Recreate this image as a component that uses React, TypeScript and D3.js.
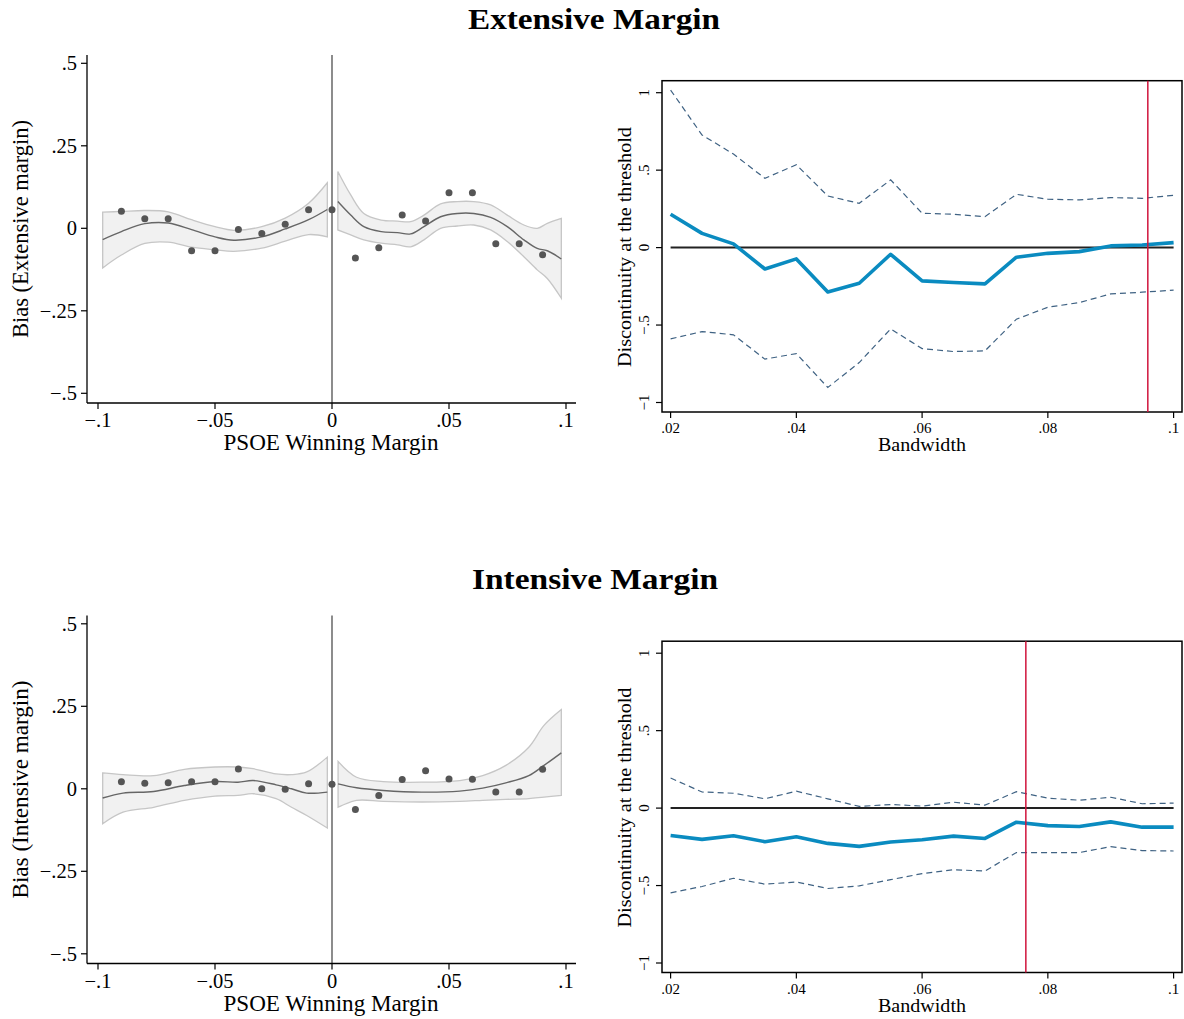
import React from 'react';
import * as d3 from 'd3';

const FONT = '"Liberation Serif", "Times New Roman", serif';

// ---------- Left panels (binned scatter + local fit) ----------
const binX = [-0.09, -0.08, -0.07, -0.06, -0.05, -0.04, -0.03, -0.02, -0.01, 0, 0.01, 0.02, 0.03, 0.04, 0.05, 0.06, 0.07, 0.08, 0.09];
const extBinY = [0.052, 0.029, 0.029, -0.068, -0.068, -0.004, -0.016, 0.012, 0.056, 0.056, -0.090, -0.059, 0.040, 0.022, 0.108, 0.108, -0.047, -0.047, -0.080];
const intBinY = [0.021, 0.017, 0.018, 0.021, 0.021, 0.060, 0.0, -0.001, 0.015, 0.014, -0.063, -0.020, 0.028, 0.055, 0.030, 0.029, -0.010, -0.010, 0.059];

const extFitLX = [-0.098, -0.09, -0.08, -0.07, -0.06, -0.05, -0.042, -0.03, -0.02, -0.01, -0.002];
const extFitL = [-0.034, -0.010, 0.014, 0.016, -0.004, -0.026, -0.036, -0.026, -0.002, 0.026, 0.057];
const extUpL = [0.049, 0.051, 0.054, 0.050, 0.026, 0.005, -0.006, 0.005, 0.031, 0.076, 0.138];
const extLoL = [-0.120, -0.081, -0.046, -0.042, -0.057, -0.065, -0.070, -0.060, -0.039, -0.019, -0.026];

const extFitRX = [0.0025, 0.008, 0.0136, 0.021, 0.028, 0.0336, 0.0393, 0.0464, 0.0535, 0.0606, 0.0678, 0.0749, 0.082, 0.0877, 0.092, 0.098];
const extFitR = [0.081, 0.040, 0.005, -0.010, -0.013, -0.017, 0.005, 0.035, 0.045, 0.045, 0.033, 0.005, -0.035, -0.061, -0.068, -0.093];
const extUpR = [0.172, 0.101, 0.045, 0.025, 0.022, 0.020, 0.040, 0.074, 0.081, 0.081, 0.071, 0.040, 0.010, 0.000, 0.015, 0.030];
const extLoR = [-0.005, -0.020, -0.035, -0.045, -0.050, -0.056, -0.035, 0.000, 0.007, 0.010, -0.005, -0.040, -0.086, -0.126, -0.152, -0.212];

const intFitLX = [-0.098, -0.0893, -0.0762, -0.0631, -0.050, -0.0402, -0.0337, -0.0239, -0.0173, -0.0108, -0.002];
const intFitL = [-0.028, -0.013, -0.008, 0.010, 0.022, 0.020, 0.025, 0.012, 0.000, -0.013, -0.010];
const intUpL = [0.048, 0.043, 0.040, 0.059, 0.066, 0.066, 0.061, 0.045, 0.043, 0.051, 0.096];
const intLoL = [-0.106, -0.071, -0.056, -0.035, -0.022, -0.020, -0.015, -0.030, -0.056, -0.081, -0.119];

const intFitRX = [0.0026, 0.0105, 0.0219, 0.0383, 0.0546, 0.0644, 0.0743, 0.0841, 0.0906, 0.098];
const intFitR = [0.015, 0.003, -0.005, -0.010, -0.007, 0.002, 0.018, 0.040, 0.071, 0.109];
const intUpR = [0.083, 0.035, 0.022, 0.020, 0.025, 0.040, 0.071, 0.126, 0.192, 0.240];
const intLoR = [-0.056, -0.035, -0.038, -0.040, -0.038, -0.035, -0.032, -0.030, -0.025, -0.020];

const leftXTicks = [-0.1, -0.05, 0, 0.05, 0.1];
const leftXLabels = ['\u2212.1', '\u2212.05', '0', '.05', '.1'];
const leftYTicks = [0.5, 0.25, 0, -0.25, -0.5];
const leftYLabels = ['.5', '.25', '0', '\u2212.25', '\u2212.5'];

// ---------- Right panels (estimate by bandwidth) ----------
const bandwidths = [0.02, 0.025, 0.03, 0.035, 0.04, 0.045, 0.05, 0.055, 0.06, 0.065, 0.07, 0.075, 0.08, 0.085, 0.09, 0.095, 0.1];
const extEst = [0.215, 0.092, 0.024, -0.138, -0.073, -0.286, -0.230, -0.043, -0.215, -0.225, -0.234, -0.062, -0.037, -0.026, 0.011, 0.017, 0.032];
const extHi = [1.017, 0.727, 0.604, 0.447, 0.535, 0.333, 0.286, 0.437, 0.222, 0.215, 0.200, 0.344, 0.312, 0.308, 0.323, 0.318, 0.338];
const extLo = [-0.589, -0.542, -0.563, -0.720, -0.684, -0.903, -0.742, -0.525, -0.652, -0.671, -0.667, -0.462, -0.385, -0.355, -0.299, -0.288, -0.275];
const extOptimal = 0.0959;

const intEst = [-0.177, -0.202, -0.179, -0.217, -0.185, -0.228, -0.247, -0.219, -0.204, -0.181, -0.196, -0.091, -0.113, -0.119, -0.089, -0.123, -0.123];
const intHi = [0.194, 0.104, 0.096, 0.060, 0.109, 0.060, 0.011, 0.023, 0.013, 0.038, 0.019, 0.106, 0.064, 0.051, 0.070, 0.028, 0.032];
const intLo = [-0.547, -0.506, -0.453, -0.491, -0.477, -0.519, -0.502, -0.462, -0.423, -0.398, -0.406, -0.287, -0.287, -0.287, -0.249, -0.274, -0.277];
const intOptimal = 0.0765;

const rightXTicks = [0.02, 0.04, 0.06, 0.08, 0.1];
const rightXLabels = ['.02', '.04', '.06', '.08', '.1'];
const rightYTicks = [1, 0.5, 0, -0.5, -1];
const rightYLabels = ['1', '.5', '0', '\u2212.5', '\u22121'];

type Fit = { x: number[]; fit: number[]; up: number[]; lo: number[] };

function LeftPanel({ dy, yLabel, binY, fits }: { dy: number; yLabel: string; binY: number[]; fits: Fit[] }) {
  const x = d3.scaleLinear().domain([-0.1, 0.1]).range([98, 566]);
  const y = d3.scaleLinear().domain([-0.5, 0.5]).range([393.3 + dy, 63.3 + dy]);
  const axTop = 55 + dy;
  const axBot = 403 + dy;
  const axLeft = 87;
  const axRight = 576;
  const area = d3.area<number>().curve(d3.curveCatmullRom.alpha(0.5));
  const line = d3.line<[number, number]>().curve(d3.curveCatmullRom.alpha(0.5));
  return (
    <g>
      {fits.map((f, k) => {
        const a = area
          .x((_, i) => x(f.x[i]))
          .y0((_, i) => y(f.lo[i]))
          .y1((_, i) => y(f.up[i]))(f.x);
        const l = line(f.x.map((v, i) => [x(v), y(f.fit[i])] as [number, number]));
        return (
          <g key={k}>
            <path d={a || ''} fill="#f1f1f1" stroke="#c6c6c6" strokeWidth={1.3} />
            <path d={l || ''} fill="none" stroke="#666" strokeWidth={1.4} />
          </g>
        );
      })}
      <line x1={x(0)} x2={x(0)} y1={axTop} y2={axBot} stroke="#707070" strokeWidth={1.6} />
      {binX.map((v, i) => (
        <circle key={i} cx={x(v)} cy={y(binY[i])} r={3.5} fill="#555" />
      ))}
      <line x1={axLeft} x2={axLeft} y1={axTop} y2={axBot} stroke="#000" strokeWidth={1.3} />
      <line x1={axLeft} x2={axRight} y1={axBot} y2={axBot} stroke="#000" strokeWidth={1.3} />
      {leftYTicks.map((t, i) => (
        <g key={'y' + i}>
          <line x1={axLeft - 6} x2={axLeft} y1={y(t)} y2={y(t)} stroke="#000" strokeWidth={1.2} />
          <text x={77} y={y(t)} dy="0.35em" textAnchor="end" fontSize={20.5} fontFamily={FONT}>{leftYLabels[i]}</text>
        </g>
      ))}
      {leftXTicks.map((t, i) => (
        <g key={'x' + i}>
          <line x1={x(t)} x2={x(t)} y1={axBot} y2={axBot + 6} stroke="#000" strokeWidth={1.2} />
          <text x={x(t)} y={427 + dy} textAnchor="middle" fontSize={20.5} fontFamily={FONT}>{leftXLabels[i]}</text>
        </g>
      ))}
      <text x={331} y={450 + dy} textAnchor="middle" fontSize={22.5} fontFamily={FONT} textLength={215} lengthAdjust="spacingAndGlyphs">PSOE Winning Margin</text>
      <text transform={`translate(28,${229 + dy}) rotate(-90)`} textAnchor="middle" fontSize={22.5} fontFamily={FONT} textLength={218} lengthAdjust="spacingAndGlyphs">{yLabel}</text>
    </g>
  );
}

function RightPanel({ dy, est, hi, lo, opt }: { dy: number; est: number[]; hi: number[]; lo: number[]; opt: number }) {
  const x = d3.scaleLinear().domain([0.02, 0.1]).range([670.6, 1173.6]);
  const y = d3.scaleLinear().domain([-1, 1]).range([402.5 + dy, 92.7 + dy]);
  const fTop = 80.7 + dy;
  const fBot = 412 + dy;
  const fLeft = 662;
  const fRight = 1182;
  const line = d3.line<number>().x((_, i) => x(bandwidths[i]));
  return (
    <g>
      <rect x={fLeft} y={fTop} width={fRight - fLeft} height={fBot - fTop} fill="#fff" stroke="#000" strokeWidth={1.5} />
      <line x1={x(0.02)} x2={x(0.1)} y1={y(0)} y2={y(0)} stroke="#222" strokeWidth={2} />
      <path d={line.y((d) => y(d))(hi) || ''} fill="none" stroke="#3f6283" strokeWidth={1.2} strokeDasharray="6,4" />
      <path d={line.y((d) => y(d))(lo) || ''} fill="none" stroke="#3f6283" strokeWidth={1.2} strokeDasharray="6,4" />
      <path d={line.y((d) => y(d))(est) || ''} fill="none" stroke="#0a8bc0" strokeWidth={3.6} strokeLinejoin="round" />
      <line x1={x(opt)} x2={x(opt)} y1={fTop} y2={fBot} stroke="#d0143c" strokeWidth={1.5} />
      {rightYTicks.map((t, i) => (
        <g key={'y' + i}>
          <line x1={fLeft - 6} x2={fLeft} y1={y(t)} y2={y(t)} stroke="#000" strokeWidth={1.2} />
          <text transform={`translate(649,${y(t)}) rotate(-90)`} textAnchor="middle" fontSize={15} fontFamily={FONT}>{rightYLabels[i]}</text>
        </g>
      ))}
      {rightXTicks.map((t, i) => (
        <g key={'x' + i}>
          <line x1={x(t)} x2={x(t)} y1={fBot} y2={fBot + 6} stroke="#000" strokeWidth={1.2} />
          <text x={x(t)} y={433 + dy} textAnchor="middle" fontSize={15} fontFamily={FONT}>{rightXLabels[i]}</text>
        </g>
      ))}
      <text x={922} y={451 + dy} textAnchor="middle" fontSize={19.5} fontFamily={FONT} textLength={88} lengthAdjust="spacingAndGlyphs">Bandwidth</text>
      <text transform={`translate(631,${247 + dy}) rotate(-90)`} textAnchor="middle" fontSize={19.5} fontFamily={FONT} textLength={240} lengthAdjust="spacingAndGlyphs">Discontinuity at the threshold</text>
    </g>
  );
}

export default function App() {
  const DY = 560.5;
  return (
    <svg width={1184} height={1019} style={{ position: 'absolute', left: 0, top: 0, background: '#fff' }}>
      <rect x={0} y={0} width={1184} height={1019} fill="#fff" />
      <text x={594} y={28.5} textAnchor="middle" fontSize={30} fontWeight="bold" fontFamily={FONT} textLength={252} lengthAdjust="spacingAndGlyphs">Extensive Margin</text>
      <text x={595} y={28.5 + DY} textAnchor="middle" fontSize={30} fontWeight="bold" fontFamily={FONT} textLength={246} lengthAdjust="spacingAndGlyphs">Intensive Margin</text>
      <LeftPanel
        dy={0}
        yLabel="Bias (Extensive margin)"
        binY={extBinY}
        fits={[
          { x: extFitLX, fit: extFitL, up: extUpL, lo: extLoL },
          { x: extFitRX, fit: extFitR, up: extUpR, lo: extLoR },
        ]}
      />
      <LeftPanel
        dy={DY}
        yLabel="Bias (Intensive margin)"
        binY={intBinY}
        fits={[
          { x: intFitLX, fit: intFitL, up: intUpL, lo: intLoL },
          { x: intFitRX, fit: intFitR, up: intUpR, lo: intLoR },
        ]}
      />
      <RightPanel dy={0} est={extEst} hi={extHi} lo={extLo} opt={extOptimal} />
      <RightPanel dy={DY} est={intEst} hi={intHi} lo={intLo} opt={intOptimal} />
    </svg>
  );
}
